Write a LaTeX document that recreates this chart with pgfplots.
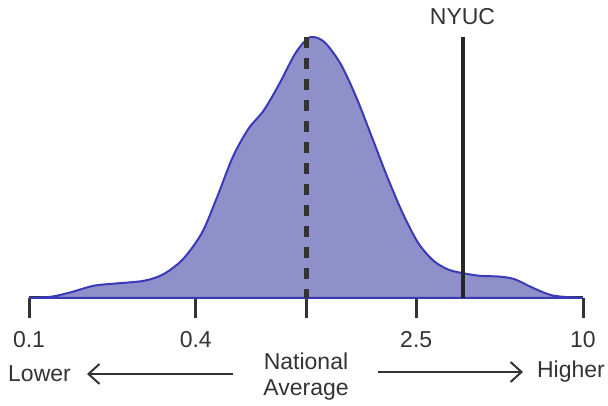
\documentclass[border=0pt]{standalone}
\usepackage{pgfplots}
\pgfplotsset{compat=1.18}
\usepackage{fontspec}
\setmainfont{Liberation Sans}
\usetikzlibrary{arrows.meta}
\definecolor{fillc}{RGB}{143,143,201}
\definecolor{edgec}{RGB}{58,58,185}
\definecolor{dk}{RGB}{51,51,51}
\begin{document}
\begin{tikzpicture}
\path[use as bounding box] (-29pt,-108pt) rectangle (579pt,298pt);
\fontsize{23}{26}\selectfont
\begin{axis}[
  at={(0pt,0pt)}, anchor=south west,
  scale only axis, width=554pt, height=261pt,
  xmin=-1, xmax=1, ymin=0, ymax=1,
  clip=false,
  axis y line=none,
  axis x line*=bottom,
  x axis line style={line width=3pt, color=dk},
  xtick={-1,-0.39794,0,0.39794,1},
  xticklabels={0.1,0.4,{},2.5,10},
  tick align=outside,
  major tick length=20pt,
  xtick style={line width=3pt, color=dk},
  xticklabel style={font=\fontsize{23}{26}\selectfont, text=dk, anchor=center, yshift=-22pt},
  /pgf/number format/assume math mode=true,
  ytick=\empty,
]
\addplot[fill=fillc, draw=edgec, line width=2pt, smooth, tension=0.5] coordinates {
(-1,0) (-0.919,0.005) (-0.849,0.022) (-0.766,0.047) (-0.682,0.056) (-0.585,0.066)
(-0.515,0.091) (-0.445,0.148) (-0.376,0.249) (-0.320,0.389) (-0.264,0.541)
(-0.208,0.648) (-0.153,0.718) (-0.097,0.819) (-0.041,0.933) (0.001,0.990)
(0.029,1.0) (0.070,0.977) (0.126,0.895) (0.182,0.768) (0.238,0.616) (0.293,0.465)
(0.349,0.325) (0.405,0.211) (0.461,0.142) (0.516,0.108) (0.572,0.094) (0.628,0.085)
(0.697,0.082) (0.753,0.072) (0.823,0.037) (0.893,0.009) (1,0)
} \closedcycle;
\addplot[dk, line width=5pt, dash pattern=on 11pt off 10pt] coordinates {(0,1) (0,0)};
\addplot[black!85, line width=4pt] coordinates {(0.565,0) (0.565,1)}
  node[pos=1, anchor=center, yshift=20pt, text=dk] {NYUC};
\end{axis}
\node[text=dk] at (10.5pt,-76pt) {Lower};
\draw[dk, line width=2pt, -{Straight Barb[length=11pt,width=20pt,line width=2pt]}] (204pt,-76pt) -- (58pt,-76pt);
\node[text=dk, align=center] at (277pt,-79pt) {National\\Average};
\draw[dk, line width=2pt, -{Straight Barb[length=11pt,width=20pt,line width=2pt]}] (349pt,-74pt) -- (494pt,-74pt);
\node[text=dk] at (542pt,-74pt) {Higher};
\end{tikzpicture}
\end{document}
